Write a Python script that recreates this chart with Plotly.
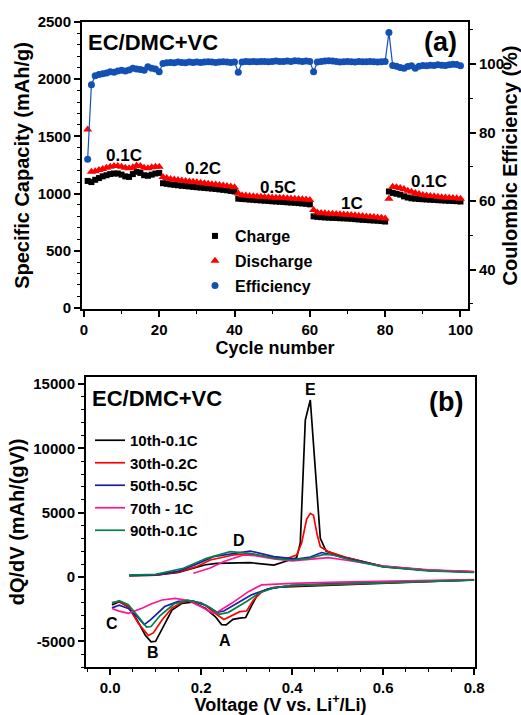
import plotly.graph_objects as go

# ---------------- Panel (a) data ----------------
cycles = list(range(1, 101))
charge = [1110, 1100, 1120, 1135, 1150, 1160, 1170, 1175, 1175, 1165,
          1150, 1145, 1170, 1190, 1180, 1160, 1155, 1165, 1175, 1180,
          1090, 1085, 1080, 1076, 1072, 1068, 1065, 1062, 1058, 1055,
          1052, 1049, 1046, 1043, 1040, 1036, 1032, 1028, 1023, 1018,
          955, 952, 950, 947, 945, 942, 940, 937, 935, 932,
          930, 928, 926, 923, 921, 919, 916, 913, 910, 905,
          800, 796, 793, 791, 789, 787, 786, 784, 783, 781,
          779, 776, 773, 770, 768, 766, 764, 762, 759, 755,
          1018, 1005, 998, 990, 975, 965, 958, 955, 952, 950,
          948, 946, 944, 942, 940, 938, 936, 935, 933, 930]
discharge = [1560, 1190, 1195, 1205, 1215, 1225, 1235, 1240, 1240, 1235,
             1225, 1220, 1230, 1245, 1240, 1225, 1220, 1230, 1235, 1235,
             1145, 1135, 1128, 1122, 1118, 1114, 1110, 1106, 1102, 1098,
             1094, 1090, 1086, 1082, 1078, 1074, 1070, 1066, 1061, 1055,
             1000, 985, 982, 979, 976, 974, 972, 970, 968, 966,
             964, 962, 960, 958, 956, 954, 952, 950, 947, 943,
             855, 835, 830, 827, 824, 822, 820, 818, 816, 814,
             812, 809, 806, 803, 800, 797, 794, 791, 787, 782,
             955, 1060, 1055, 1048, 1040, 1025, 1015, 1005, 995, 988,
             982, 978, 975, 972, 968, 965, 962, 960, 958, 955]
efficiency = [72.2, 94.0, 96.6, 97.0, 97.2, 97.4, 97.8, 97.6, 98.0, 98.2,
              98.0, 98.3, 98.8, 98.6, 98.4, 98.2, 99.2, 98.8, 98.6, 97.8,
              100.2, 100.4, 100.5, 100.4, 100.6, 100.5, 100.4, 100.6, 100.5, 100.6,
              100.5, 100.6, 100.7, 100.6, 100.5, 100.6, 100.7, 100.6, 100.5, 100.6,
              97.6, 100.6, 100.8, 100.7, 100.8, 100.7, 100.8, 100.8, 100.7, 100.8,
              100.9, 100.8, 100.8, 100.9, 100.8, 101.0, 100.9, 100.8, 100.9, 100.8,
              97.8, 100.6, 100.8, 100.9, 101.0, 100.9, 100.8, 100.6, 100.7, 100.8,
              100.7, 100.6, 100.8, 100.7, 100.7, 100.8, 100.7, 100.6, 100.7, 100.8,
              109.2, 99.6, 99.4, 99.0, 98.8, 99.3, 99.5, 98.8, 99.4, 99.6,
              99.5, 99.7, 99.6, 99.8, 99.7, 99.6, 99.8, 100.0, 99.9, 99.5]

cap_ticks = [0, 500, 1000, 1500, 2000, 2500]
eff_ticks = [40, 60, 80, 100]
cyc_ticks = [0, 20, 40, 60, 80, 100]

# ---------------- Panel (b) data ----------------
series_names = ["10th-0.1C", "30th-0.2C", "50th-0.5C", "70th - 1C", "90th-0.1C"]

# black 10th
v_dis_10 = [0.004, 0.02, 0.04, 0.059, 0.077, 0.09, 0.1, 0.114, 0.136, 0.158, 0.18, 0.209, 0.231,
            0.245, 0.255, 0.27, 0.285, 0.298, 0.31, 0.325, 0.345, 0.37, 0.4, 0.5, 0.6, 0.7, 0.8]
q_dis_10 = [-2180, -1920, -2310, -3340, -4510, -5050, -5000, -4120, -2570, -2050, -1950, -2430, -3080,
            -3700, -3720, -3300, -3200, -3150, -2300, -1300, -950, -800, -720, -600, -480, -350, -230]
v_chg_10 = [0.042, 0.1, 0.15, 0.18, 0.21, 0.234, 0.264, 0.308, 0.36, 0.396, 0.41, 0.418, 0.429,
            0.44, 0.462, 0.475, 0.52, 0.6, 0.7, 0.8]
q_chg_10 = [100, 150, 350, 680, 950, 1060, 1060, 1110, 930, 1320, 1500, 2640, 12200,
            13760, 3000, 2000, 1500, 800, 520, 400]

# red 30th
v_dis_30 = [0.004, 0.02, 0.04, 0.062, 0.084, 0.095, 0.114, 0.136, 0.16, 0.18, 0.209, 0.23, 0.25,
            0.27, 0.285, 0.3, 0.315, 0.335, 0.36, 0.4, 0.5, 0.6, 0.7, 0.8]
q_dis_30 = [-2000, -1900, -2300, -3600, -4550, -4350, -3340, -2400, -1950, -1850, -2200, -2800, -3300,
            -2950, -2700, -2650, -1800, -1100, -800, -700, -580, -450, -330, -220]
v_chg_30 = [0.042, 0.1, 0.15, 0.19, 0.22, 0.271, 0.3, 0.344, 0.39, 0.41, 0.421, 0.432, 0.44,
            0.447, 0.455, 0.462, 0.48, 0.52, 0.6, 0.7, 0.8]
q_chg_30 = [100, 150, 400, 800, 1320, 1710, 1790, 1580, 1450, 1710, 2640, 4500, 4950,
            4800, 3300, 2350, 1970, 1500, 800, 520, 400]

# blue 50th
v_dis_50 = [0.004, 0.02, 0.04, 0.06, 0.075, 0.09, 0.12, 0.15, 0.18, 0.21, 0.235, 0.25, 0.28,
            0.31, 0.35, 0.4, 0.5, 0.6, 0.7, 0.8]
q_dis_50 = [-2400, -2200, -2450, -3100, -3700, -3300, -2300, -1900, -1850, -2200, -2750, -2650, -2000,
            -1400, -900, -650, -500, -420, -320, -230]
v_chg_50 = [0.042, 0.1, 0.15, 0.19, 0.227, 0.271, 0.308, 0.36, 0.41, 0.44, 0.465, 0.49, 0.53,
            0.6, 0.7, 0.8]
q_chg_50 = [120, 170, 450, 1000, 1580, 1840, 2020, 1580, 1390, 1550, 1900, 1710, 1350,
            850, 520, 380]

# pink 70th
v_dis_70 = [0.004, 0.02, 0.04, 0.07, 0.09, 0.114, 0.143, 0.172, 0.2, 0.226, 0.237, 0.267, 0.304,
            0.333, 0.4, 0.5, 0.6, 0.7, 0.8]
q_dis_70 = [-2450, -2650, -2820, -2430, -2100, -1790, -1660, -1830, -2310, -2820, -2700, -2050, -1140,
            -620, -500, -400, -330, -260, -200]
v_chg_70 = [0.183, 0.22, 0.25, 0.271, 0.293, 0.319, 0.36, 0.4, 0.44, 0.48, 0.52, 0.6, 0.7, 0.8]
q_chg_70 = [285, 700, 1200, 1450, 1710, 1650, 1400, 1250, 1350, 1500, 1300, 850, 550, 420]

# green 90th
v_dis_90 = [0.004, 0.02, 0.04, 0.06, 0.08, 0.09, 0.11, 0.14, 0.17, 0.2, 0.22, 0.24, 0.26,
            0.28, 0.3, 0.33, 0.36, 0.4, 0.5, 0.6, 0.7, 0.8]
q_dis_90 = [-2050, -1850, -2150, -3000, -3900, -3850, -3000, -2100, -1800, -2000, -2400, -2900, -2750,
            -2300, -1900, -1200, -850, -650, -520, -430, -330, -240]
v_chg_90 = [0.042, 0.1, 0.161, 0.212, 0.264, 0.308, 0.363, 0.4, 0.436, 0.471, 0.491, 0.528,
            0.6, 0.7, 0.8]
q_chg_90 = [150, 200, 680, 1450, 1970, 1840, 1450, 1320, 1450, 1750, 1710, 1320, 780, 480, 350]

volt_ticks = [0.0, 0.2, 0.4, 0.6, 0.8]
volt_labels = ["0.0", "0.2", "0.4", "0.6", "0.8"]
dq_ticks = [-5000, 0, 5000, 10000, 15000]
dq_labels = ["-5000", "0", "5000", "10000", "15000"]

W, H = 521, 715
FONT = "Liberation Sans, Arial, Helvetica, sans-serif"


def px(x):
    return x / W


def py(y):
    return 1 - y / H


fig = go.Figure()

# Panel (a)
fig.add_trace(go.Scatter(x=cycles, y=charge, mode="markers", name="Charge",
                         marker=dict(symbol="square", size=6, color="black"),
                         xaxis="x", yaxis="y", legend="legend", legendgroup="a1"))
fig.add_trace(go.Scatter(x=cycles, y=discharge, mode="markers", name="Discharge",
                         marker=dict(symbol="triangle-up", size=8, color="#ff0000"),
                         xaxis="x", yaxis="y", legend="legend", legendgroup="a2"))
fig.add_trace(go.Scatter(x=cycles, y=efficiency, mode="lines", showlegend=False,
                         line=dict(color="#1450b4", width=1.2),
                         xaxis="x", yaxis="y2", legendgroup="a3"))
fig.add_trace(go.Scatter(x=cycles, y=efficiency, mode="markers", name="Efficiency",
                         marker=dict(symbol="circle", size=7, color="#1450b4"),
                         xaxis="x", yaxis="y2", legend="legend", legendgroup="a3"))

# Panel (b)
colors_b = ["#000000", "#ff0000", "#1c1ca8", "#ff1493", "#00804a"]
vd = [v_dis_10, v_dis_30, v_dis_50, v_dis_70, v_dis_90]
qd = [q_dis_10, q_dis_30, q_dis_50, q_dis_70, q_dis_90]
vc = [v_chg_10, v_chg_30, v_chg_50, v_chg_70, v_chg_90]
qc = [q_chg_10, q_chg_30, q_chg_50, q_chg_70, q_chg_90]
for name, col, a, b, c, d in zip(series_names, colors_b, vd, qd, vc, qc):
    xs = list(reversed(a)) + [None] + list(c)
    ys = list(reversed(b)) + [None] + list(d)
    fig.add_trace(go.Scatter(x=xs, y=ys, mode="lines", name=name,
                             line=dict(color=col, width=1.7),
                             xaxis="x3", yaxis="y3", legend="legend2"))

tickfont = dict(family=FONT, size=15, color="black", weight="bold")
titlefont = dict(family=FONT, size=18, color="black", weight="bold")
ytitlefont = dict(family=FONT, size=20, color="black", weight="bold")

common = dict(showline=True, linecolor="black", linewidth=2, ticks="outside",
              ticklen=6, tickwidth=1.5, tickcolor="black", showgrid=False,
              zeroline=False, tickfont=tickfont, automargin=False)
minor_style = dict(ticks="outside", ticklen=3, tickwidth=1.2, tickcolor="black")

fig.update_layout(
    width=W, height=H, template="none",
    margin=dict(l=0, r=0, t=0, b=0),
    paper_bgcolor="white", plot_bgcolor="white",
    showlegend=True,
    xaxis=dict(domain=[px(82), px(468)], anchor="y", range=[-0.5, 102],
               tickvals=cyc_ticks, mirror=True,
               minor=dict(dtick=10, **minor_style),
               title=dict(text="Cycle number", font=titlefont, standoff=0), **common),
    yaxis=dict(domain=[py(309), py(22)], anchor="x", range=[-10, 2500],
               tickvals=cap_ticks, mirror=True,
               minor=dict(dtick=100, **minor_style),
               title=dict(text="Specific Capacity (mAh/g)", font=ytitlefont, standoff=3), **common),
    yaxis2=dict(overlaying="y", anchor="x", side="right", range=[28.5, 112.3],
                tickvals=eff_ticks,
                minor=dict(dtick=10, **minor_style),
                title=dict(text="Coulombic Efficiency (%)", font=ytitlefont, standoff=3), **common),
    xaxis3=dict(domain=[px(86), px(475)], anchor="y3", range=[-0.053, 0.802],
                tickvals=volt_ticks, ticktext=volt_labels,
                mirror=True,
                minor=dict(dtick=0.05, **minor_style),
                title=dict(text="Voltage (V vs. Li<sup>+</sup>/Li)", font=titlefont, standoff=0), **common),
    yaxis3=dict(domain=[py(667), py(377)], anchor="x3", range=[-7000, 15550],
                tickvals=dq_ticks, ticktext=dq_labels, mirror=True,
                minor=dict(dtick=1000, **minor_style),
                title=dict(text="dQ/dV (mAh/(gV))", font=ytitlefont, standoff=3), **common),
    legend=dict(x=px(195), y=py(219), xanchor="left", yanchor="top",
                bgcolor="rgba(0,0,0,0)", tracegroupgap=1,
                font=dict(family=FONT, size=16, color="black", weight="bold")),
    legend2=dict(x=px(90), y=py(424), xanchor="left", yanchor="top",
                 bgcolor="rgba(0,0,0,0)",
                 font=dict(family=FONT, size=15, color="black", weight="bold")),
)

ann_font = dict(family=FONT, color="black", weight="bold")
labels = [
    ("EC/DMC+VC", 153, 42, 22),
    ("(a)", 440, 42, 27),
    ("0.1C", 124, 155, 17),
    ("0.2C", 203, 169, 17),
    ("0.5C", 278, 188, 17),
    ("1C", 352, 203, 17),
    ("0.1C", 429, 181, 17),
    ("EC/DMC+VC", 157, 398, 22),
    ("(b)", 446, 402, 27),
    ("E", 310, 390, 16),
    ("D", 239, 540, 16),
    ("C", 112, 623, 16),
    ("B", 153, 652, 16),
    ("A", 225, 640, 16),
]
for text, x, y, s in labels:
    fig.add_annotation(text=text, x=px(x), y=py(y), xref="paper", yref="paper",
                       showarrow=False, xanchor="center", yanchor="middle",
                       font=dict(size=s, **ann_font))

fig.write_html("out.html")
